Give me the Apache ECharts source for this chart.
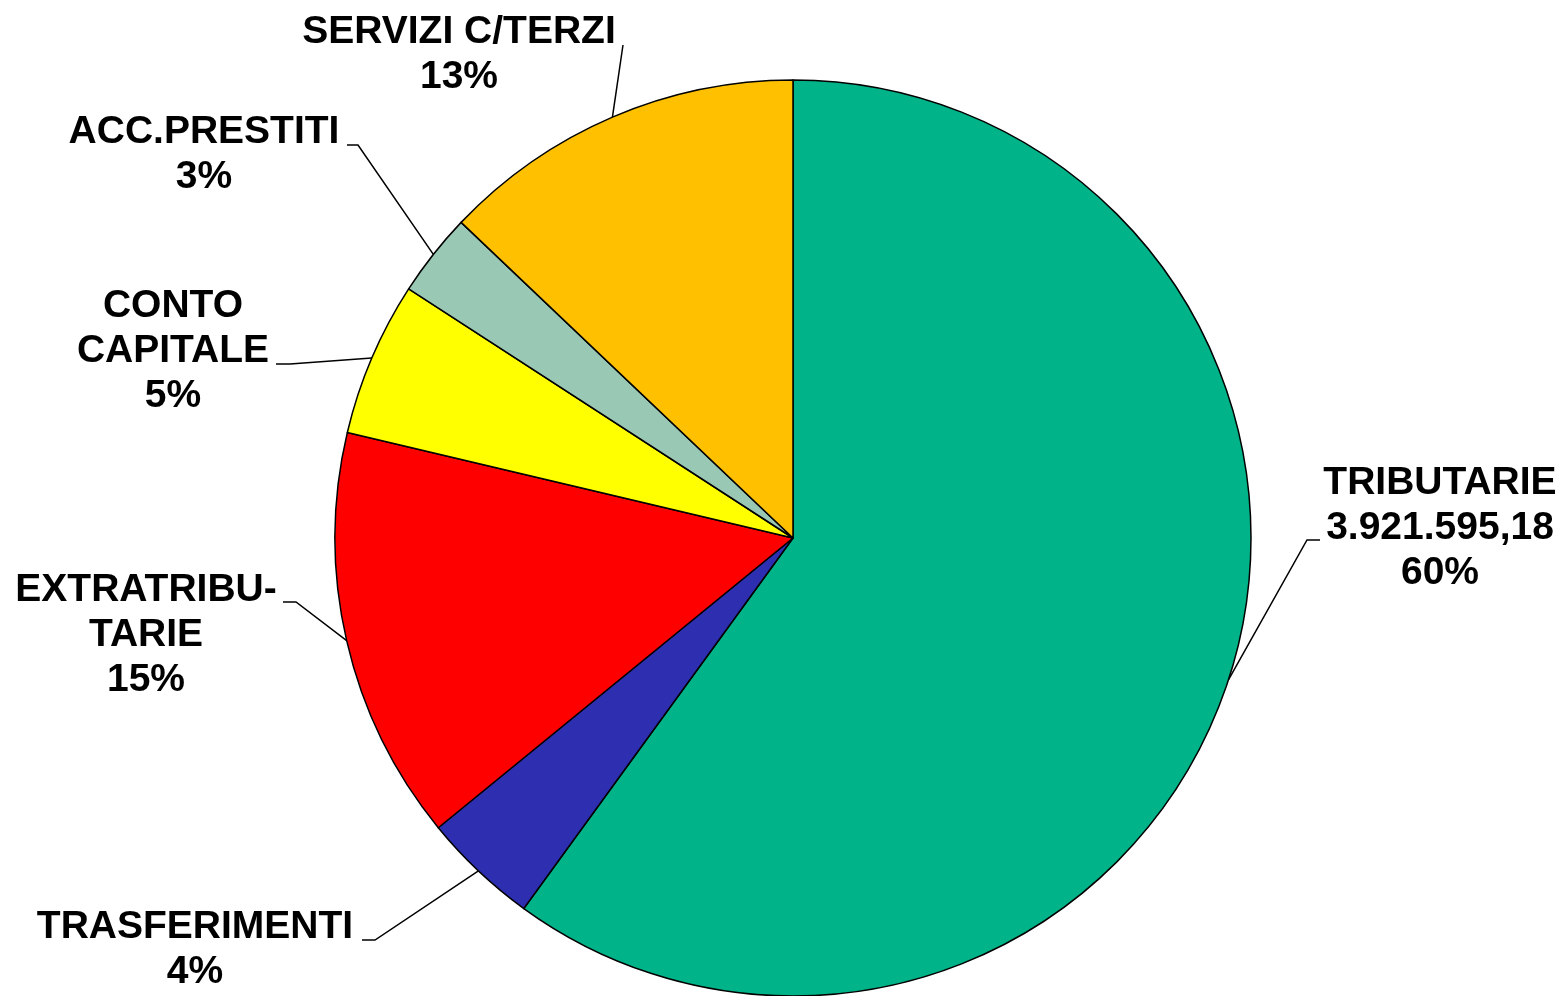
<!DOCTYPE html>
<html>
<head>
<meta charset="utf-8">
<script src="https://cdn.jsdelivr.net/npm/echarts@6/dist/echarts.min.js"></script>
<style>
  html, body { margin: 0; padding: 0; background: #fff; }
  #chart { width: 1566px; height: 996px; }
</style>
</head>
<body>
<div id="chart"></div>
<script>
// categories (clockwise from 12 o'clock) and their values
var categories = ['TRIBUTARIE', 'TRASFERIMENTI', 'EXTRATRIBU-\nTARIE', 'CONTO\nCAPITALE', 'ACC.PRESTITI', 'SERVIZI C/TERZI'];
var values = [3921595.18, 268000, 954300, 356200, 192800, 843100];
var showValue = [true, false, false, false, false, false];

var colors = ['#00B388', '#2E2EB0', '#FF0000', '#FFFF00', '#99C8B4', '#FFC000'];

// where each label sits (text block centre) and where its leader line ends
var labelSpots = [
    { x: 1440, y: 528, elbow: [1307, 540], end: [1320, 540] },
    { x: 195, y: 950, elbow: [375, 940], end: [362, 940] },
    { x: 146, y: 635, elbow: [296, 602], end: [283, 602] },
    { x: 173, y: 351, elbow: [290, 364], end: [276, 364] },
    { x: 204, y: 155, elbow: [358, 145], end: [347, 145] },
    { x: 459, y: 55, elbow: [623, 45], end: [623, 45] }
];

var cx = 793, cy = 538, R = 458;

function fmtIt(v) {
    var parts = v.toFixed(2).split('.');
    var int = parts[0].replace(/\B(?=(\d{3})+(?!\d))/g, '.');
    return int + ',' + parts[1];
}

var total = values.reduce(function (a, b) { return a + b; }, 0);

// mid angle edge point of each slice (for the leader line start)
function edgePoint(i) {
    var before = 0;
    for (var k = 0; k < i; k++) before += values[k];
    var mid = (before + values[i] / 2) / total * Math.PI * 2;
    return [cx + R * Math.sin(mid), cy - R * Math.cos(mid)];
}

var data = categories.map(function (c, i) {
    return { name: c, value: values[i], itemStyle: { color: colors[i] } };
});

var myChart = echarts.init(document.getElementById('chart'));
myChart.setOption({
    animation: false,
    series: [{
        type: 'pie',
        center: [cx, cy],
        radius: R,
        startAngle: 90,
        clockwise: true,
        avoidLabelOverlap: false,
        itemStyle: { borderColor: '#000', borderWidth: 1.5 },
        label: {
            show: true,
            position: 'outside',
            color: '#000',
            fontFamily: '"Liberation Sans", Arial, sans-serif',
            fontWeight: 'bold',
            fontSize: 39,
            lineHeight: 45,
            align: 'center',
            formatter: function (p) {
                var pct = Math.round(p.value / total * 100) + '%';
                if (showValue[p.dataIndex]) {
                    return p.name + '\n' + fmtIt(p.value) + '\n' + pct;
                }
                return p.name + '\n' + pct;
            }
        },
        labelLine: {
            show: true,
            lineStyle: { color: '#000', width: 1.5 }
        },
        labelLayout: function (params) {
            var s = labelSpots[params.dataIndex];
            return {
                x: s.x,
                y: s.y,
                align: 'center',
                verticalAlign: 'middle',
                labelLinePoints: [edgePoint(params.dataIndex), s.elbow, s.end]
            };
        },
        emphasis: { disabled: true },
        data: data
    }]
});
</script>
</body>
</html>
